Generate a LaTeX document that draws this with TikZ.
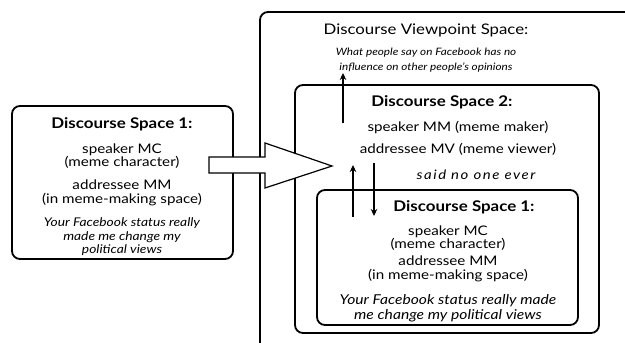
\documentclass[tikz,border=0pt]{standalone}
\usepackage{fontspec}
\setmainfont{Lato}[FakeStretch=1.15]
\newfontfamily\spacedfont{Lato}[FakeStretch=1.15,LetterSpace=12]
\usetikzlibrary{arrows.meta}

\begin{document}
\begin{tikzpicture}[x=1pt,y=-1pt,
                    space/.style={draw=black,line width=1.8pt,rounded corners=8pt},
                    title/.style={font=\fontsize{14.6}{17}\selectfont,inner sep=0pt},
                    heading/.style={font=\fontsize{14.7}{15}\selectfont\bfseries,inner sep=0pt},
                    role/.style={font=\fontsize{13.2}{13.5}\selectfont,align=center,inner sep=0pt},
                    quote/.style={font=\fontsize{12}{13.5}\selectfont\itshape,align=center,inner sep=0pt},
                    link/.style={-{Stealth[length=7pt,width=6.5pt]},line width=1.8pt}
                ]
                    \useasboundingbox (0,0) rectangle (625,343);

                    % the boxes
                    \begin{scope}
                        \clip (0,0) rectangle (625,343);
                        \draw[space] (260,12) rectangle (700,400);
                    \end{scope}
                    \draw[space] (295,85) rectangle (599,333);
                    \draw[space] (317,190) rectangle (578,325);
                    \draw[space] (12,106) rectangle (233,259);

                    % left space
                    \node[heading] (lefthead) at (122,124) {Discourse Space 1:};
                    \node[role] (leftspk) at (122,156) {speaker MC\\(meme character)};
                    \node[role] (leftadr) at (122,193) {addressee MM\\(in meme-making space)};
                    \node[quote] (leftquote) at (122,237) {Your Facebook status really\\made me change my\\political views};

                    % viewpoint space
                    \node[title] (vphead) at (426,30) {Discourse Viewpoint Space:};
                    \node[quote,font=\fontsize{10.2}{15}\selectfont\itshape] (vpquote) at (426,60)
                        {What people say on Facebook has no\\influence on other people's opinions};

                    % space 2
                    \node[heading] (midhead) at (442,102) {Discourse Space 2:};
                    \node[role] (midspk) at (458,128) {speaker MM (meme maker)};
                    \node[role] (midadr) at (458,149) {addressee MV (meme viewer)};
                    \node[quote,font=\fontsize{13}{14}\spacedfont\itshape] (midquote) at (476,175) {said no one ever};

                    % inner space 1
                    \node[heading] (innhead) at (464,207) {Discourse Space 1:};
                    \node[role] (innspk) at (448,238) {speaker MC\\(meme character)};
                    \node[role] (innadr) at (448,269) {addressee MM\\(in meme-making space)};
                    \node[quote,font=\fontsize{13.6}{14.5}\selectfont\itshape] (innquote) at (448,308)
                        {Your Facebook status really made\\me change my political views};

                    % arrows
                    \draw[line width=1.2pt,fill=white] (209,157) -- (265,157) -- (265,143) -- (332,166)
                        -- (265,188) -- (265,173) -- (209,173) -- cycle;
                    \coordinate (up1s) at (343,123);
                    \coordinate (up1e) at (343,73);
                    \coordinate (up2s) at (353,217);
                    \coordinate (up2e) at (353,165);
                    \coordinate (dns) at (374,163);
                    \coordinate (dne) at (374,216);
                    \draw[link] (up1s) -- (up1e);
                    \draw[link] (up2s) -- (up2e);
                    \draw[link] (dns) -- (dne);

                \end{tikzpicture}
\end{document}
